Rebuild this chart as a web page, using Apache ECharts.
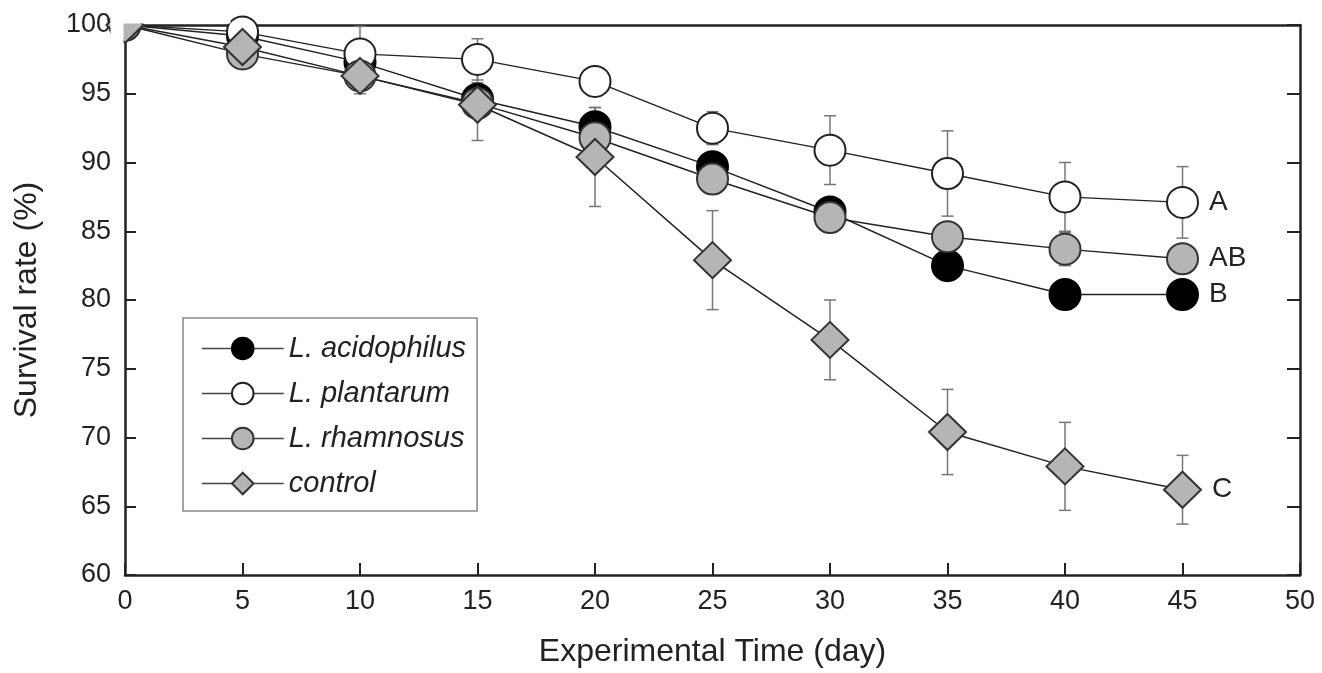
<!DOCTYPE html>
<html>
<head>
<meta charset="utf-8">
<script src="https://cdn.jsdelivr.net/npm/echarts@6/dist/echarts.min.js"></script>
<style>
  html, body { margin: 0; padding: 0; background: #fff; }
  #chart { width: 1322px; height: 673px; }
</style>
</head>
<body>
<div id="chart"></div>
<script>
// data
const days = [0, 5, 10, 15, 20, 25, 30, 35, 40, 45];

const acidophilus    = [100, 99.2, 97.3, 94.6, 92.6, 89.7, 86.4, 82.5, 80.4, 80.4];
const acidophilusErr = [0, 0.8, 1.0, 1.2, 1.4, 1.0, 0.6, 0.8, 0.3, 0.3];

const plantarum    = [100, 99.5, 97.9, 97.5, 95.9, 92.5, 90.9, 89.2, 87.5, 87.1];
const plantarumErr = [0, 0.7, 2.0, 1.5, 0.8, 1.2, 2.5, 3.1, 2.5, 2.6];

const rhamnosus    = [100, 97.9, 96.3, 94.3, 91.8, 88.8, 86.0, 84.6, 83.7, 83.0];
const rhamnosusErr = [0, 0.5, 0.8, 1.0, 1.5, 1.0, 0.8, 0.6, 1.2, 0.8];

const control    = [100, 98.4, 96.3, 94.2, 90.4, 82.9, 77.1, 70.4, 67.9, 66.2];
const controlErr = [0, 0.6, 1.3, 2.6, 3.6, 3.6, 2.9, 3.1, 3.2, 2.5];

const seriesNames = ['L. acidophilus', 'L. plantarum', 'L. rhamnosus', 'control'];
const groupLetters = ['B', 'A', 'AB', 'C'];

const FONT = '"Liberation Sans", Arial, sans-serif';
const INK = '#222';
const GREY = '#b5b5b5';
const GRID_LEFT = 125, GRID_TOP = 25;

const chart = echarts.init(document.getElementById('chart'));

function lineSeries(name, values, symbol, size, fill, border, letter) {
  const data = values.map((v, i) => [days[i], v]);
  // group letter next to the last point
  const last = data.length - 1;
  data[last] = {
    value: data[last],
    label: {
      show: true, formatter: letter, position: 'right', distance: 10,
      fontSize: 28, color: INK, fontFamily: FONT
    }
  };
  return {
    name: name,
    type: 'line',
    data: data,
    symbol: symbol,
    symbolSize: size,
    showAllSymbol: true,
    lineStyle: { color: INK, width: 1.5 },
    itemStyle: { color: fill, borderColor: border, borderWidth: 2, opacity: 1 },
    emphasis: { disabled: true },
    animation: false,
    z: 3
  };
}

function errorSeries(values, errs) {
  return {
    type: 'custom',
    silent: true,
    clip: true,
    z: 2,
    animation: false,
    encode: { x: 0, y: 1 },
    data: values.map((v, i) => [days[i], v, errs[i]]),
    renderItem: function (params, api) {
      const x = api.value(0), y = api.value(1), e = api.value(2);
      if (!e) return;
      const top = api.coord([x, y + e]);
      const bot = api.coord([x, y - e]);
      const hw = 6;
      const style = { stroke: '#777', lineWidth: 1.5 };
      return {
        type: 'group',
        children: [
          { type: 'line', shape: { x1: top[0], y1: top[1], x2: bot[0], y2: bot[1] }, style: style },
          { type: 'line', shape: { x1: top[0] - hw, y1: top[1], x2: top[0] + hw, y2: top[1] }, style: style },
          { type: 'line', shape: { x1: bot[0] - hw, y1: bot[1], x2: bot[0] + hw, y2: bot[1] }, style: style }
        ]
      };
    }
  };
}

const frameLine = { show: true, onZero: false, lineStyle: { color: INK, width: 2.5 } };

const option = {
  backgroundColor: '#fff',
  animation: false,
  textStyle: { fontFamily: FONT },
  grid: { left: GRID_LEFT, right: 22, top: GRID_TOP, bottom: 97, containLabel: false },
  legend: {
    data: seriesNames,
    orient: 'vertical',
    left: 183,
    top: 318,
    padding: [16, 11, 13, 18],
    itemWidth: 82,
    itemHeight: 27,
    itemGap: 16,
    borderColor: '#888',
    borderWidth: 1.5,
    backgroundColor: '#fff',
    selectedMode: false,
    lineStyle: { color: '#444', width: 1.5 },
    textStyle: { fontSize: 29, fontStyle: 'italic', color: INK, fontFamily: FONT }
  },
  xAxis: [
    {
      type: 'value', min: 0, max: 50, interval: 5, position: 'bottom',
      axisLine: frameLine,
      axisTick: { show: true, inside: true, length: 12, lineStyle: { color: INK, width: 2 } },
      axisLabel: { fontSize: 27, color: INK, margin: 13, fontFamily: FONT },
      splitLine: { show: false },
      name: 'Experimental Time (day)', nameLocation: 'middle', nameGap: 61,
      nameTextStyle: { fontSize: 32, color: INK, fontFamily: FONT }
    },
    {
      type: 'value', min: 0, max: 50, interval: 5, position: 'top',
      axisLine: frameLine, axisTick: { show: false }, axisLabel: { show: false },
      splitLine: { show: false }
    }
  ],
  yAxis: [
    {
      type: 'value', min: 60, max: 100, interval: 5, position: 'left',
      axisLine: frameLine,
      axisTick: { show: true, inside: true, length: 11, lineStyle: { color: INK, width: 2 } },
      axisLabel: { fontSize: 27, color: INK, margin: 14, fontFamily: FONT },
      splitLine: { show: false },
      name: 'Survival rate (%)', nameLocation: 'middle', nameGap: 82,
      nameTextStyle: { fontSize: 32, color: INK, fontFamily: FONT }
    },
    {
      type: 'value', min: 60, max: 100, interval: 5, position: 'right',
      axisLine: frameLine,
      axisTick: { show: true, inside: true, length: 13, lineStyle: { color: INK, width: 2 } },
      axisLabel: { show: false },
      splitLine: { show: false }
    }
  ],
  series: [
    errorSeries(acidophilus, acidophilusErr),
    errorSeries(plantarum, plantarumErr),
    errorSeries(rhamnosus, rhamnosusErr),
    errorSeries(control, controlErr),
    lineSeries(seriesNames[0], acidophilus, 'circle', 31, '#000', '#000', groupLetters[0]),
    lineSeries(seriesNames[1], plantarum, 'circle', 31, '#fff', INK, groupLetters[1]),
    lineSeries(seriesNames[2], rhamnosus, 'circle', 31, GREY, '#333', groupLetters[2]),
    lineSeries(seriesNames[3], control, 'diamond', [37, 36], GREY, '#333', groupLetters[3])
  ],
  // white masks so the day-0 markers look clipped by the frame, as in the figure
  graphic: [
    { type: 'rect', z: 100, silent: true, shape: { x: 110.5, y: 0, width: GRID_LEFT - 1.5 - 110.5, height: 60 }, style: { fill: '#fff' } },
    { type: 'rect', z: 100, silent: true, shape: { x: 110.5, y: 0, width: 120, height: GRID_TOP - 1.5 }, style: { fill: '#fff' } }
  ]
};

chart.setOption(option);
</script>
</body>
</html>
